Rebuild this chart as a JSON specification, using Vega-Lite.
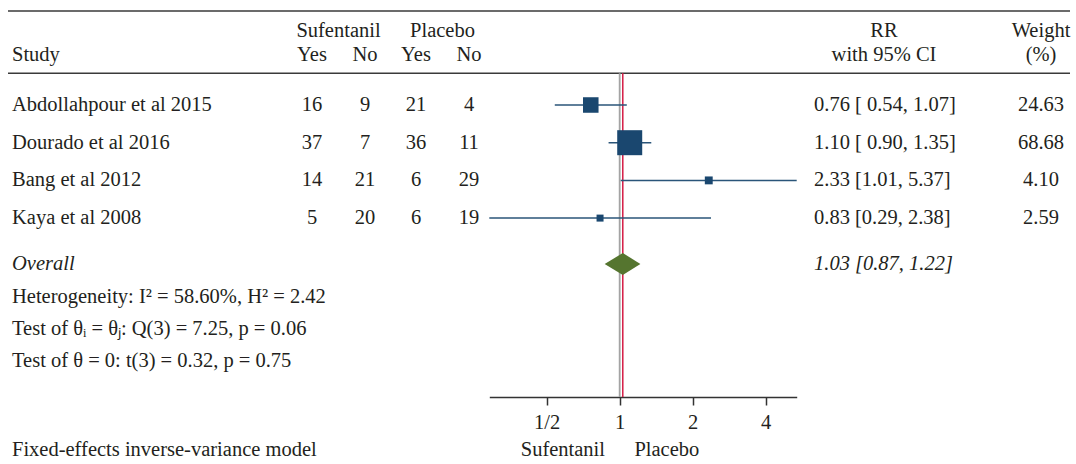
{
  "$schema": "https://vega.github.io/schema/vega-lite/v6.json",
  "width": 1062,
  "height": 397,
  "autosize": {"type": "none"},
  "padding": {"left": 8, "top": 0, "right": 6, "bottom": 67},
  "background": "white",
  "config": {
    "view": {"stroke": null},
    "font": "Liberation Serif",
    "text": {"font": "Liberation Serif", "fontSize": 20.5, "color": "#231f20"},
    "axisX": {
      "domainColor": "#333333", "domainWidth": 1.5,
      "tickColor": "#333333", "tickWidth": 1.5, "tickSize": 8,
      "labelFont": "Liberation Serif", "labelFontSize": 20.5, "labelColor": "#231f20",
      "labelPadding": 7, "grid": false
    }
  },
  "datasets": {
    "studies": [
      {"study": "Abdollahpour et al 2015", "line": 1, "rr": 0.76, "lo": 0.54, "hi": 1.07, "weight": 24.63},
      {"study": "Dourado et al 2016", "line": 2, "rr": 1.10, "lo": 0.90, "hi": 1.35, "weight": 68.68},
      {"study": "Bang et al 2012", "line": 3, "rr": 2.33, "lo": 1.01, "hi": 5.37, "weight": 4.10},
      {"study": "Kaya et al 2008", "line": 4, "rr": 0.83, "lo": 0.29, "hi": 2.38, "weight": 2.59}
    ],
    "overall": [{"label": "Overall", "line": 5.2175, "rr": 1.03, "lo": 0.87, "hi": 1.22}],
    "table": [
      {"sec": "head", "line": -0.976, "col": 1.5, "text": "Sufentanil"},
      {"sec": "head", "line": -0.976, "col": 3.5, "text": "Placebo"},
      {"sec": "head", "line": -0.976, "col": 6, "text": "RR"},
      {"sec": "head", "line": -0.976, "col": 7, "text": "Weight"},
      {"sec": "head", "line": -0.313, "col": 0, "text": "Study"},
      {"sec": "head", "line": -0.313, "col": 1, "text": "Yes"},
      {"sec": "head", "line": -0.313, "col": 2, "text": "No"},
      {"sec": "head", "line": -0.313, "col": 3, "text": "Yes"},
      {"sec": "head", "line": -0.313, "col": 4, "text": "No"},
      {"sec": "head", "line": -0.313, "col": 6, "text": "with 95% CI"},
      {"sec": "head", "line": -0.313, "col": 7, "text": "(%)"},
      {"sec": "study", "line": 1, "col": 0, "text": "Abdollahpour et al 2015"},
      {"sec": "study", "line": 1, "col": 1, "text": "16"},
      {"sec": "study", "line": 1, "col": 2, "text": "9"},
      {"sec": "study", "line": 1, "col": 3, "text": "21"},
      {"sec": "study", "line": 1, "col": 4, "text": "4"},
      {"sec": "study", "line": 1, "col": 5, "text": "0.76 [ 0.54, 1.07]"},
      {"sec": "study", "line": 1, "col": 7, "text": "24.63"},
      {"sec": "study", "line": 2, "col": 0, "text": "Dourado et al 2016"},
      {"sec": "study", "line": 2, "col": 1, "text": "37"},
      {"sec": "study", "line": 2, "col": 2, "text": "7"},
      {"sec": "study", "line": 2, "col": 3, "text": "36"},
      {"sec": "study", "line": 2, "col": 4, "text": "11"},
      {"sec": "study", "line": 2, "col": 5, "text": "1.10 [ 0.90, 1.35]"},
      {"sec": "study", "line": 2, "col": 7, "text": "68.68"},
      {"sec": "study", "line": 3, "col": 0, "text": "Bang et al 2012"},
      {"sec": "study", "line": 3, "col": 1, "text": "14"},
      {"sec": "study", "line": 3, "col": 2, "text": "21"},
      {"sec": "study", "line": 3, "col": 3, "text": "6"},
      {"sec": "study", "line": 3, "col": 4, "text": "29"},
      {"sec": "study", "line": 3, "col": 5, "text": "2.33 [1.01, 5.37]"},
      {"sec": "study", "line": 3, "col": 7, "text": "4.10"},
      {"sec": "study", "line": 4, "col": 0, "text": "Kaya et al 2008"},
      {"sec": "study", "line": 4, "col": 1, "text": "5"},
      {"sec": "study", "line": 4, "col": 2, "text": "20"},
      {"sec": "study", "line": 4, "col": 3, "text": "6"},
      {"sec": "study", "line": 4, "col": 4, "text": "19"},
      {"sec": "study", "line": 4, "col": 5, "text": "0.83 [0.29, 2.38]"},
      {"sec": "study", "line": 4, "col": 7, "text": "2.59"},
      {"sec": "overall", "line": 5.2175, "col": 0, "text": "Overall"},
      {"sec": "overall", "line": 5.2175, "col": 5, "text": "1.03 [0.87, 1.22]"},
      {"sec": "stats", "line": 6.106, "col": 0, "text": "Heterogeneity: I² = 58.60%, H² = 2.42"},
      {"sec": "stats", "line": 6.942, "col": 0, "text": "Test of θᵢ = θⱼ: Q(3) = 7.25, p = 0.06"},
      {"sec": "stats", "line": 7.782, "col": 0, "text": "Test of θ = 0: t(3) = 0.32, p = 0.75"},
      {"sec": "note", "line": 10.151, "col": 0, "text": "Fixed-effects inverse-variance model"}
    ]
  },
  "resolve": {"scale": {"x": "independent"}},
  "layer": [
    {
      "data": {"values": [{"rule": "top", "line": -1.4934}, {"rule": "header", "line": 0.159}]},
      "mark": {"type": "rule", "color": "#3a3a3a", "strokeWidth": 1.6},
      "encoding": {
        "y": {"field": "line", "type": "quantitative", "axis": null,
              "scale": {"domain": [-1.7851, 8.7454], "reverse": true, "nice": false, "zero": false}}
      }
    },
    {
      "data": {"name": "table"},
      "layer": [
        {
          "transform": [{"filter": "(datum.col == 0 || datum.col == 5) && datum.sec != 'overall'"}],
          "mark": {"type": "text", "align": "left", "baseline": "middle"},
          "encoding": {
            "x": {"field": "col", "type": "quantitative", "axis": null,
                  "scale": {"domain": [0, 1, 2, 3, 4, 5, 6, 7], "range": [4, 304, 357, 408, 461, 806, 876, 1033], "nice": false, "zero": false}},
            "y": {"field": "line", "type": "quantitative", "axis": null,
                  "scale": {"domain": [-1.7851, 8.7454], "reverse": true, "nice": false, "zero": false}},
            "text": {"field": "text"}
          }
        },
        {
          "transform": [{"filter": "datum.sec == 'overall'"}],
          "mark": {"type": "text", "align": "left", "baseline": "middle", "fontStyle": "italic"},
          "encoding": {
            "x": {"field": "col", "type": "quantitative", "axis": null,
                  "scale": {"domain": [0, 1, 2, 3, 4, 5, 6, 7], "range": [4, 304, 357, 408, 461, 806, 876, 1033], "nice": false, "zero": false}},
            "y": {"field": "line", "type": "quantitative", "axis": null,
                  "scale": {"domain": [-1.7851, 8.7454], "reverse": true, "nice": false, "zero": false}},
            "text": {"field": "text"}
          }
        },
        {
          "transform": [{"filter": "datum.col != 0 && datum.col != 5"}],
          "mark": {"type": "text", "align": "center", "baseline": "middle"},
          "encoding": {
            "x": {"field": "col", "type": "quantitative", "axis": null,
                  "scale": {"domain": [0, 1, 2, 3, 4, 5, 6, 7], "range": [4, 304, 357, 408, 461, 806, 876, 1033], "nice": false, "zero": false}},
            "y": {"field": "line", "type": "quantitative", "axis": null,
                  "scale": {"domain": [-1.7851, 8.7454], "reverse": true, "nice": false, "zero": false}},
            "text": {"field": "text"}
          }
        }
      ]
    },
    {
      "layer": [
        {
          "data": {"values": [{"ref": "no effect", "rr": 1}]},
          "mark": {"type": "rule", "color": "#a3a3a3", "strokeWidth": 1.8},
          "encoding": {
            "x": {"field": "rr", "type": "quantitative",
                  "scale": {"type": "log", "base": 2, "domain": [0.29, 5.37], "range": [481.3, 788.7], "nice": false},
                  "axis": {"values": [0.5, 1, 2, 4], "labelExpr": "datum.value < 1 ? '1/2' : format(datum.value, 'd')", "title": null}},
            "y": {"datum": 0.159, "type": "quantitative", "axis": null,
                  "scale": {"domain": [-1.7851, 8.7454], "reverse": true, "nice": false, "zero": false}},
            "y2": {"datum": 8.7454}
          }
        },
        {
          "data": {"name": "overall"},
          "mark": {"type": "rule", "color": "#d51b45", "strokeWidth": 1.5},
          "encoding": {
            "x": {"field": "rr", "type": "quantitative",
                  "scale": {"type": "log", "base": 2, "domain": [0.29, 5.37], "range": [481.3, 788.7], "nice": false},
                  "axis": {"title": null}},
            "y": {"datum": 0.159, "type": "quantitative", "axis": null,
                  "scale": {"domain": [-1.7851, 8.7454], "reverse": true, "nice": false, "zero": false}},
            "y2": {"datum": 8.7454}
          }
        },
        {
          "data": {"name": "studies"},
          "mark": {"type": "rule", "color": "#2a5579", "strokeWidth": 1.5},
          "encoding": {
            "x": {"field": "lo", "type": "quantitative",
                  "scale": {"type": "log", "base": 2, "domain": [0.29, 5.37], "range": [481.3, 788.7], "nice": false},
                  "axis": {"title": null}},
            "x2": {"field": "hi"},
            "y": {"field": "line", "type": "quantitative", "axis": null,
                  "scale": {"domain": [-1.7851, 8.7454], "reverse": true, "nice": false, "zero": false}}
          }
        },
        {
          "data": {"name": "studies"},
          "mark": {"type": "point", "shape": "square", "filled": true, "opacity": 1, "color": "#1a476f", "strokeWidth": 0},
          "encoding": {
            "x": {"field": "rr", "type": "quantitative",
                  "scale": {"type": "log", "base": 2, "domain": [0.29, 5.37], "range": [481.3, 788.7], "nice": false},
                  "axis": {"title": null}},
            "y": {"field": "line", "type": "quantitative", "axis": null,
                  "scale": {"domain": [-1.7851, 8.7454], "reverse": true, "nice": false, "zero": false}},
            "size": {"field": "weight", "type": "quantitative", "legend": null,
                     "scale": {"domain": [2.59, 68.68], "range": [49, 625], "zero": false, "nice": false}}
          }
        },
        {
          "data": {"name": "overall"},
          "mark": {"type": "point", "shape": "M-1.006,0L0,-0.611L0.978,0L0,0.611Z", "size": 1296, "filled": true, "opacity": 1, "color": "#55752f", "strokeWidth": 0},
          "encoding": {
            "x": {"field": "rr", "type": "quantitative",
                  "scale": {"type": "log", "base": 2, "domain": [0.29, 5.37], "range": [481.3, 788.7], "nice": false},
                  "axis": {"title": null}},
            "y": {"field": "line", "type": "quantitative", "axis": null,
                  "scale": {"domain": [-1.7851, 8.7454], "reverse": true, "nice": false, "zero": false}}
          }
        },
        {
          "data": {"values": [{"favours": "Sufentanil", "rr": 0.87}]},
          "mark": {"type": "text", "align": "right", "baseline": "middle"},
          "encoding": {
            "x": {"field": "rr", "type": "quantitative",
                  "scale": {"type": "log", "base": 2, "domain": [0.29, 5.37], "range": [481.3, 788.7], "nice": false},
                  "axis": {"title": null}},
            "y": {"datum": 10.151, "type": "quantitative", "axis": null,
                  "scale": {"domain": [-1.7851, 8.7454], "reverse": true, "nice": false, "zero": false}},
            "text": {"field": "favours"}
          }
        },
        {
          "data": {"values": [{"favours": "Placebo", "rr": 1.15}]},
          "mark": {"type": "text", "align": "left", "baseline": "middle"},
          "encoding": {
            "x": {"field": "rr", "type": "quantitative",
                  "scale": {"type": "log", "base": 2, "domain": [0.29, 5.37], "range": [481.3, 788.7], "nice": false},
                  "axis": {"title": null}},
            "y": {"datum": 10.151, "type": "quantitative", "axis": null,
                  "scale": {"domain": [-1.7851, 8.7454], "reverse": true, "nice": false, "zero": false}},
            "text": {"field": "favours"}
          }
        }
      ]
    }
  ]
}
